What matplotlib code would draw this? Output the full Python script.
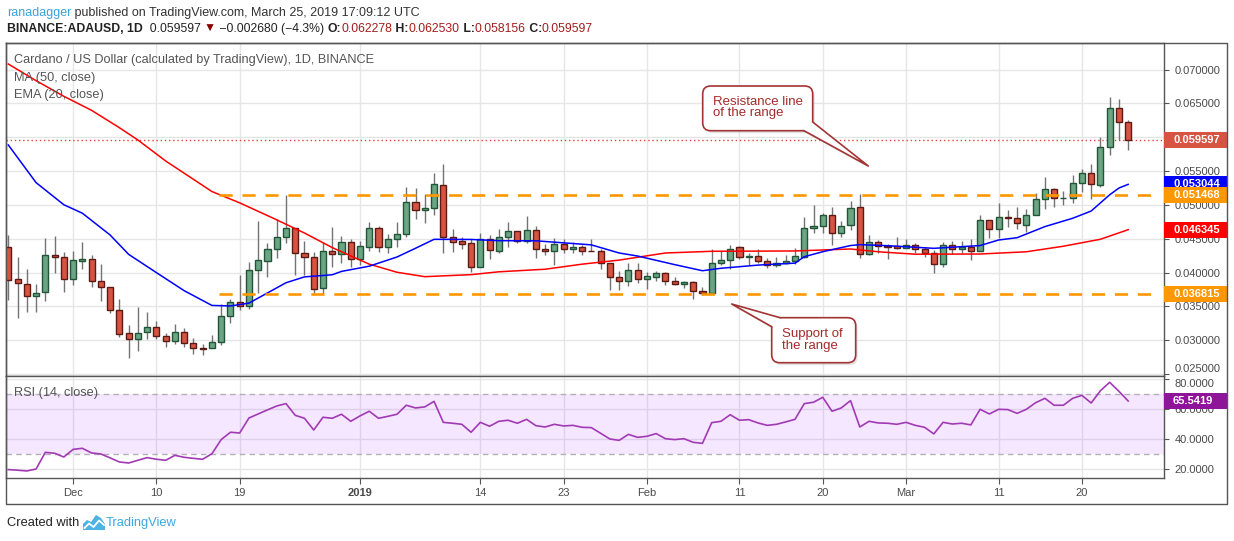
import numpy as np
import matplotlib
matplotlib.use("Agg")
import matplotlib.pyplot as plt
from matplotlib import transforms
from matplotlib.patches import Rectangle, FancyBboxPatch, Polygon
from matplotlib.ticker import FormatStrFormatter

plt.rcParams['font.family'] = ['Liberation Sans', 'DejaVu Sans']

# ---- daily candles, Nov 24 2018 .. Mar 25 2019 ----
opens = [0.04383, 0.03900, 0.03827, 0.03654, 0.03708, 0.04255, 0.04226, 0.03901, 0.04176, 0.04196,
         0.03871, 0.03782, 0.03442, 0.03103, 0.03024, 0.03117, 0.03191, 0.03058, 0.02984, 0.03117,
         0.02955, 0.02886, 0.02881, 0.02970, 0.03354, 0.03561, 0.03507, 0.04034, 0.04167, 0.04344,
         0.04521, 0.04654, 0.04285, 0.04226, 0.03768, 0.04315, 0.04270, 0.04448, 0.04196, 0.04374,
         0.04655, 0.04374, 0.04492, 0.04571, 0.05039, 0.04920, 0.04950, 0.05290, 0.04521, 0.04467,
         0.04433, 0.04078, 0.04492, 0.04315, 0.04521, 0.04610, 0.04467, 0.04625, 0.04344, 0.04315,
         0.04418, 0.04344, 0.04374, 0.04325, 0.04315, 0.04137, 0.03930, 0.03871, 0.04039, 0.03901,
         0.03930, 0.03989, 0.03871, 0.03827, 0.03856, 0.03723, 0.03694, 0.04137, 0.04186, 0.04374,
         0.04226, 0.04246, 0.04167, 0.04108, 0.04137, 0.04172, 0.04236, 0.04654, 0.04689, 0.04847,
         0.04590, 0.04699, 0.04965, 0.04270, 0.04448, 0.04398, 0.04393, 0.04369, 0.04403, 0.04344,
         0.04285, 0.04122, 0.04403, 0.04344, 0.04374, 0.04324, 0.04773, 0.04649, 0.04822, 0.04802,
         0.04708, 0.04856, 0.05083, 0.05231, 0.05098, 0.05098, 0.05320, 0.05467, 0.05290, 0.05862,
         0.06428, 0.062278]
highs = [0.04556, 0.04236, 0.04048, 0.03832, 0.04516, 0.04541, 0.04305, 0.04319, 0.04452, 0.04255,
         0.04127, 0.03792, 0.03610, 0.03226, 0.03492, 0.03418, 0.03285, 0.03112, 0.03240, 0.03186,
         0.03029, 0.02945, 0.03073, 0.03536, 0.03605, 0.03960, 0.04157, 0.04763, 0.04433, 0.04788,
         0.05147, 0.04660, 0.04467, 0.04305, 0.04457, 0.04679, 0.04541, 0.04492, 0.04472, 0.04753,
         0.04689, 0.04571, 0.04753, 0.05270, 0.05246, 0.05157, 0.05477, 0.05605, 0.04645, 0.04521,
         0.04492, 0.04581, 0.04556, 0.04640, 0.04748, 0.04610, 0.04837, 0.04689, 0.04423, 0.04507,
         0.04492, 0.04448, 0.04413, 0.04497, 0.04354, 0.04137, 0.04019, 0.04137, 0.04137, 0.04014,
         0.04029, 0.04009, 0.03930, 0.03871, 0.03871, 0.03792, 0.04344, 0.04324, 0.04408, 0.04393,
         0.04285, 0.04344, 0.04211, 0.04226, 0.04255, 0.04359, 0.04817, 0.05000, 0.04886, 0.04965,
         0.04763, 0.05058, 0.05162, 0.04556, 0.04482, 0.04423, 0.04522, 0.04492, 0.04433, 0.04383,
         0.04334, 0.04452, 0.04472, 0.04467, 0.04502, 0.04852, 0.04773, 0.05024, 0.04925, 0.04970,
         0.04940, 0.05172, 0.05408, 0.05246, 0.05206, 0.05438, 0.05526, 0.05605, 0.05999, 0.06600,
         0.06566, 0.062530]
lows = [0.03595, 0.03324, 0.03423, 0.03423, 0.03585, 0.03999, 0.03718, 0.03812, 0.04048, 0.03782,
        0.03585, 0.03408, 0.03043, 0.02743, 0.02846, 0.03024, 0.03014, 0.02905, 0.02950, 0.02905,
        0.02802, 0.02787, 0.02881, 0.02930, 0.03250, 0.03447, 0.03467, 0.03703, 0.03940, 0.04221,
        0.04443, 0.03960, 0.03965, 0.03703, 0.03684, 0.04088, 0.04137, 0.04088, 0.04113, 0.04324,
        0.04310, 0.04295, 0.04384, 0.04531, 0.04797, 0.04738, 0.04847, 0.04295, 0.04310, 0.04344,
        0.04014, 0.04078, 0.04206, 0.04295, 0.04374, 0.04433, 0.04433, 0.04221, 0.04255, 0.04118,
        0.04295, 0.04295, 0.04265, 0.04315, 0.04058, 0.03738, 0.03738, 0.03802, 0.03842, 0.03753,
        0.03871, 0.03817, 0.03812, 0.03768, 0.03605, 0.03664, 0.03684, 0.04113, 0.04049, 0.04196,
        0.04113, 0.04147, 0.04063, 0.04078, 0.04127, 0.04127, 0.04211, 0.04590, 0.04581, 0.04403,
        0.04531, 0.04630, 0.04211, 0.04260, 0.04295, 0.04196, 0.04344, 0.04364, 0.04285, 0.04226,
        0.03999, 0.04078, 0.04275, 0.04285, 0.04186, 0.04324, 0.04512, 0.04512, 0.04669, 0.04649,
        0.04605, 0.04856, 0.04935, 0.04975, 0.05004, 0.05024, 0.05196, 0.05083, 0.05270, 0.05733,
        0.05960, 0.058156]
closes = [0.03891, 0.03841, 0.03654, 0.03694, 0.04255, 0.04226, 0.03901, 0.04181, 0.04196, 0.03871,
          0.03782, 0.03442, 0.03088, 0.03024, 0.03103, 0.03191, 0.03058, 0.02984, 0.03117, 0.02955,
          0.02881, 0.02876, 0.02970, 0.03354, 0.03561, 0.03507, 0.04034, 0.04181, 0.04344, 0.04521,
          0.04654, 0.04285, 0.04226, 0.03753, 0.04315, 0.04270, 0.04448, 0.04196, 0.04388, 0.04655,
          0.04374, 0.04492, 0.04571, 0.05039, 0.04920, 0.04950, 0.05305, 0.04521, 0.04457, 0.04428,
          0.04078, 0.04492, 0.04329, 0.04521, 0.04610, 0.04467, 0.04625, 0.04344, 0.04315, 0.04418,
          0.04344, 0.04384, 0.04315, 0.04315, 0.04137, 0.03930, 0.03871, 0.04039, 0.03901, 0.03950,
          0.03989, 0.03871, 0.03827, 0.03856, 0.03723, 0.03694, 0.04137, 0.04186, 0.04354, 0.04226,
          0.04246, 0.04172, 0.04108, 0.04137, 0.04172, 0.04246, 0.04654, 0.04689, 0.04847, 0.04581,
          0.04689, 0.04950, 0.04270, 0.04448, 0.04389, 0.04384, 0.04364, 0.04403, 0.04344, 0.04285,
          0.04122, 0.04403, 0.04344, 0.04374, 0.04324, 0.04773, 0.04649, 0.04817, 0.04802, 0.04728,
          0.04847, 0.05083, 0.05231, 0.05098, 0.05103, 0.05320, 0.05467, 0.05305, 0.05852, 0.06428,
          0.06221, 0.059597]

rsi = [19.8, 19.4, 18.9, 20.2, 31.3, 30.7, 28.2, 33.3, 34.0, 30.9, 30.2, 27.6, 24.9, 24.2, 26.0,
       27.8, 26.7, 26.0, 29.3, 28.0, 27.3, 26.7, 30.4, 39.8, 44.7, 44.2, 54.2, 56.9, 59.6, 62.2,
       63.8, 56.0, 54.0, 46.2, 54.7, 54.0, 56.7, 52.0, 55.6, 58.7, 54.0, 55.3, 56.7, 62.7, 60.9,
       61.6, 65.3, 51.3, 50.7, 50.0, 44.7, 51.3, 48.7, 52.0, 52.7, 50.7, 53.3, 49.1, 48.2, 50.0,
       48.9, 49.3, 48.0, 47.8, 44.0, 40.2, 39.3, 43.3, 41.3, 42.0, 43.8, 40.4, 39.8, 40.4, 38.0,
       37.3, 51.1, 52.0, 56.4, 52.7, 53.1, 50.9, 49.3, 50.0, 51.6, 53.3, 63.8, 64.7, 68.0, 58.7,
       60.9, 65.8, 48.2, 52.0, 50.9, 50.7, 50.0, 51.3, 49.3, 48.0, 43.6, 51.3, 50.2, 50.7, 49.6,
       60.0, 56.9, 60.0, 59.8, 57.3, 60.0, 64.4, 67.3, 62.7, 62.7, 67.3, 69.3, 64.2, 72.4, 78.0,
       72.0, 65.5419]

# moving averages, sampled at a subset of days (day index from Nov 24)
ma50_days = [0, 3, 6, 9, 12, 14, 17, 22, 25, 29, 32, 35, 39, 42, 45, 50, 53, 58, 62, 66,
             71, 76, 85, 91, 94, 98, 105, 110, 114, 118, 121]
ma50 = [0.07083, 0.06837, 0.06606, 0.06398, 0.06142, 0.05960, 0.05650, 0.05198, 0.05031, 0.04780,
        0.04585, 0.04370, 0.04125, 0.04005, 0.03940, 0.03970, 0.04012, 0.04050, 0.04125, 0.04185,
        0.04290, 0.04315, 0.04320, 0.04349, 0.04308, 0.04272, 0.04275, 0.04308, 0.04390, 0.04493,
        0.046345]
ema20_days = [0, 3, 6, 8, 11, 13, 16, 19, 22, 24, 26, 30, 32, 35, 36, 39, 42, 44, 46, 50, 53,
              57, 59, 63, 66, 68, 72, 75, 77, 81, 85, 86, 88, 91, 92, 95, 100, 105, 107, 109,
              112, 115, 117, 119, 120, 121]
ema20 = [0.05886, 0.05330, 0.05003, 0.04878, 0.04556, 0.04270, 0.04000, 0.03733, 0.03515, 0.03507,
         0.03549, 0.03850, 0.03937, 0.03968, 0.04018, 0.04095, 0.04231, 0.04360, 0.04492, 0.04490,
         0.04472, 0.04470, 0.04450, 0.04410, 0.04290, 0.04245, 0.04118, 0.04028, 0.04064, 0.04111,
         0.04140, 0.04235, 0.04309, 0.04400, 0.04413, 0.04398, 0.04359, 0.04400, 0.04482, 0.04516,
         0.04680, 0.04803, 0.04910, 0.05150, 0.05250, 0.053044]

tick_days = [7, 16, 25, 38, 51, 60, 69, 79, 88, 97, 107, 116]
tick_labels = ['Dec', '10', '19', '2019', '14', '23', 'Feb', '11', '20', 'Mar', '11', '20']

resistance = 0.051468
support = 0.036815
last_close = 0.059597

# ---- layout in pixels ----
W, H = 1234, 541
L, R = 6, 1164
TOP, SEP, BOT = 42.7, 376, 478

fig = plt.figure(figsize=(W / 100, H / 100), dpi=100)


def frac(x0, y0, x1, y1):
    return [x0 / W, 1 - y1 / H, (x1 - x0) / W, (y1 - y0) / H]


ax = fig.add_axes(frac(L, TOP, R, SEP))
axr = fig.add_axes(frac(L, SEP, R, BOT), sharex=ax)

GRID = '#e6e6e6'
SPINE = '#555555'
TXT = '#4a4a4a'

for a in (ax, axr):
    a.set_axisbelow(True)
    for s in a.spines.values():
        s.set_color(SPINE)
        s.set_linewidth(1)
    a.yaxis.tick_right()
    a.tick_params(axis='y', length=3.5, color=SPINE, labelsize=8, labelcolor=TXT, pad=4)
    a.grid(True, color=GRID, lw=1)

ax.set_xlim(-0.25, 124.87)
ax.set_ylim(0.02472, 0.07398)
ax.set_yticks(np.arange(0.025, 0.0701, 0.005))
ax.yaxis.set_major_formatter(FormatStrFormatter('%.6f'))
ax.set_xticks(tick_days)
ax.tick_params(axis='x', length=0, labelbottom=False)

# ---- candles ----
o = np.array(opens); h = np.array(highs); l = np.array(lows); c = np.array(closes)
idx = np.arange(len(c))
up = c >= o
ax.vlines(idx, l, h, color='#737375', lw=1, zorder=3)
body_lo = np.minimum(o, c)
body_h = np.maximum(np.abs(c - o), 0.00004)
ax.bar(idx[up], body_h[up], bottom=body_lo[up], width=0.66, color='#6ba583',
       edgecolor='#225437', linewidth=1, zorder=4)
ax.bar(idx[~up], body_h[~up], bottom=body_lo[~up], width=0.66, color='#d75442',
       edgecolor='#5b1a13', linewidth=1, zorder=4)

ax.plot(ma50_days, ma50, color='#ff0000', lw=1.1, zorder=5)
ax.plot(ema20_days, ema20, color='#0000ff', lw=1.1, zorder=5)

ax.axhline(last_close, color='#e0463a', lw=1, ls=(0, (1, 2)), zorder=2)
ax.hlines([resistance, support], 22.77, 124.2, color='#ff9800', lw=1.9,
          ls=(0, (5, 3.7)), zorder=6)

# ---- RSI pane ----
axr.set_ylim(14.2, 82.2)
axr.set_yticks([20, 40, 60, 80])
axr.yaxis.set_major_formatter(FormatStrFormatter('%.4f'))
axr.set_xticks(tick_days)
axr.set_xticklabels(tick_labels)
axr.tick_params(axis='x', length=4, color=SPINE, labelsize=8, labelcolor=TXT, pad=3)
axr.get_xticklabels()[3].set_fontweight('bold')
axr.axhspan(30, 70, color='#9915ff', alpha=0.1, lw=0, zorder=1)
axr.axhline(70, color='#b5b0b8', lw=1, ls=(0, (4, 3)), zorder=2)
axr.axhline(30, color='#b5b0b8', lw=1, ls=(0, (4, 3)), zorder=2)
axr.plot(idx, rsi, color='#a23ab5', lw=1.2, zorder=5)

# the lowest price label and the top RSI label sit next to the pane border
ax.get_yticklabels()[0].set_va('bottom')
axr.get_yticklabels()[-1].set_va('top')


# ---- tags on the price axis ----
def price_tag(a, y, text, color):
    tr = transforms.blended_transform_factory(a.transAxes, a.transData)
    y0, y1 = a.get_ylim()
    hh = 16 * (y1 - y0) / a.bbox.height
    a.add_patch(Rectangle((1.0, y - hh / 2), 63 / (R - L), hh, transform=tr, clip_on=False,
                          fc=color, ec='none', zorder=10))
    a.text(1.0 + 9 / (R - L), y, text, transform=tr, color='white', fontsize=8,
           fontweight='bold', va='center', ha='left', zorder=11, clip_on=False)


price_tag(ax, last_close, '0.059597', '#d75442')
price_tag(ax, ema20[-1], '0.053044', '#0000ff')
price_tag(ax, resistance, '0.051468', '#ff9800')
price_tag(ax, ma50[-1], '0.046345', '#ff0000')
price_tag(ax, support, '0.036815', '#ff9800')
price_tag(axr, rsi[-1], '65.5419', '#8e1599')

# ---- overlay in pixel coordinates ----
ov = fig.add_axes([0, 0, 1, 1], zorder=10)
ov.set_xlim(0, W)
ov.set_ylim(H, 0)
ov.axis('off')
ov.patch.set_alpha(0)

# outer frame
ov.plot([L, 1227, 1227, L, L], [TOP, TOP, 504, 504, TOP], color=SPINE, lw=1)

renderer = fig.canvas.get_renderer()


def draw_row(x, y, parts, size):
    for text, color, weight in parts:
        t = ov.text(x, y, text, color=color, fontsize=size, fontweight=weight,
                    va='center', ha='left')
        x += t.get_window_extent(renderer=renderer).width


draw_row(7, 13, [('ranadagger', '#3ba3dc', 'normal'),
                 (' published on TradingView.com, March 25, 2019 17:09:12 UTC', '#333333', 'normal')], 9)
RED = '#a31d1d'
draw_row(7, 29, [('BINANCE:ADAUSD, 1D', '#222222', 'bold'),
                 ('  0.059597 ', '#222222', 'normal'),
                 ('\u25bc', '#8b0000', 'normal'),
                 (' \u22120.002680 (\u22124.3%) ', '#222222', 'normal'),
                 ('O:', '#222222', 'bold'), ('0.062278', RED, 'normal'),
                 (' H:', '#222222', 'bold'), ('0.062530', RED, 'normal'),
                 (' L:', '#222222', 'bold'), ('0.058156', RED, 'normal'),
                 (' C:', '#222222', 'bold'), ('0.059597', RED, 'normal')], 8.8)

LEG = '#555555'
ov.text(14, 60, 'Cardano / US Dollar (calculated by TradingView), 1D, BINANCE', color=LEG,
        fontsize=9.2, va='center')
ov.text(14, 78, 'MA (50, close)', color=LEG, fontsize=9.2, va='center')
ov.text(14, 95, 'EMA (20, close)', color=LEG, fontsize=9.2, va='center')
ov.text(14, 393, 'RSI (14, close)', color=LEG, fontsize=9.2, va='center')


def callout(x0, y0, x1, y1, e1, e2, e1in, e2in, tip, lines, tx, tys):
    edge = '#a33434'
    sh = [(p[0] + 2, p[1] + 2.5) for p in (e1in, e1, tip, e2, e2in)]
    ov.add_patch(FancyBboxPatch((x0 + 2, y0 + 2.5), x1 - x0, y1 - y0,
                                boxstyle='round,pad=0,rounding_size=8', fc='#c8c8c8',
                                ec='none', alpha=0.5, zorder=1))
    ov.add_patch(Polygon(sh, closed=True, fc='#c8c8c8', ec='none', alpha=0.5, zorder=1))
    ov.add_patch(FancyBboxPatch((x0, y0), x1 - x0, y1 - y0,
                                boxstyle='round,pad=0,rounding_size=8', fc='white',
                                ec=edge, lw=1.2, zorder=2))
    ov.add_patch(Polygon([e1in, e1, tip, e2, e2in], closed=True, fc='white', ec='none', zorder=3))
    ov.plot([e1[0], tip[0], e2[0]], [e1[1], tip[1], e2[1]], color=edge, lw=1.2, zorder=4)
    for s, ty in zip(lines, tys):
        ov.text(tx, ty, s, color='#a52a2a', fontsize=9.5, va='center', ha='left', zorder=5)


callout(702.7, 86, 812.7, 130.7, (804, 130.7), (812.7, 122), (803, 128.5), (810.5, 121.5),
        (868.3, 166), ['Resistance line', 'of the range'], 712.7, [101.7, 113.3])
callout(771.7, 317.7, 855.7, 362.7, (780, 317.7), (771.7, 326.7), (780.5, 320), (774, 327.5),
        (731.7, 304), ['Support of', 'the range'], 782, [334, 345.7])

# footer
ov.text(7, 523, 'Created with', color='#222222', fontsize=9.3, va='center')
ov.add_patch(Polygon([(83, 530), (83, 524), (87, 520), (91, 522), (96, 515), (101, 518),
                      (105, 524), (105, 530)], closed=True, fc='#4cb3e3', ec='none'))
ov.plot([84.5, 89, 93.5, 99, 104], [528, 523.5, 527, 520.5, 525], color='white', lw=1.3)
ov.text(106, 523, 'TradingView', color='#3aa8e0', fontsize=9.3, va='center')

fig.savefig('out.png', dpi=100)
